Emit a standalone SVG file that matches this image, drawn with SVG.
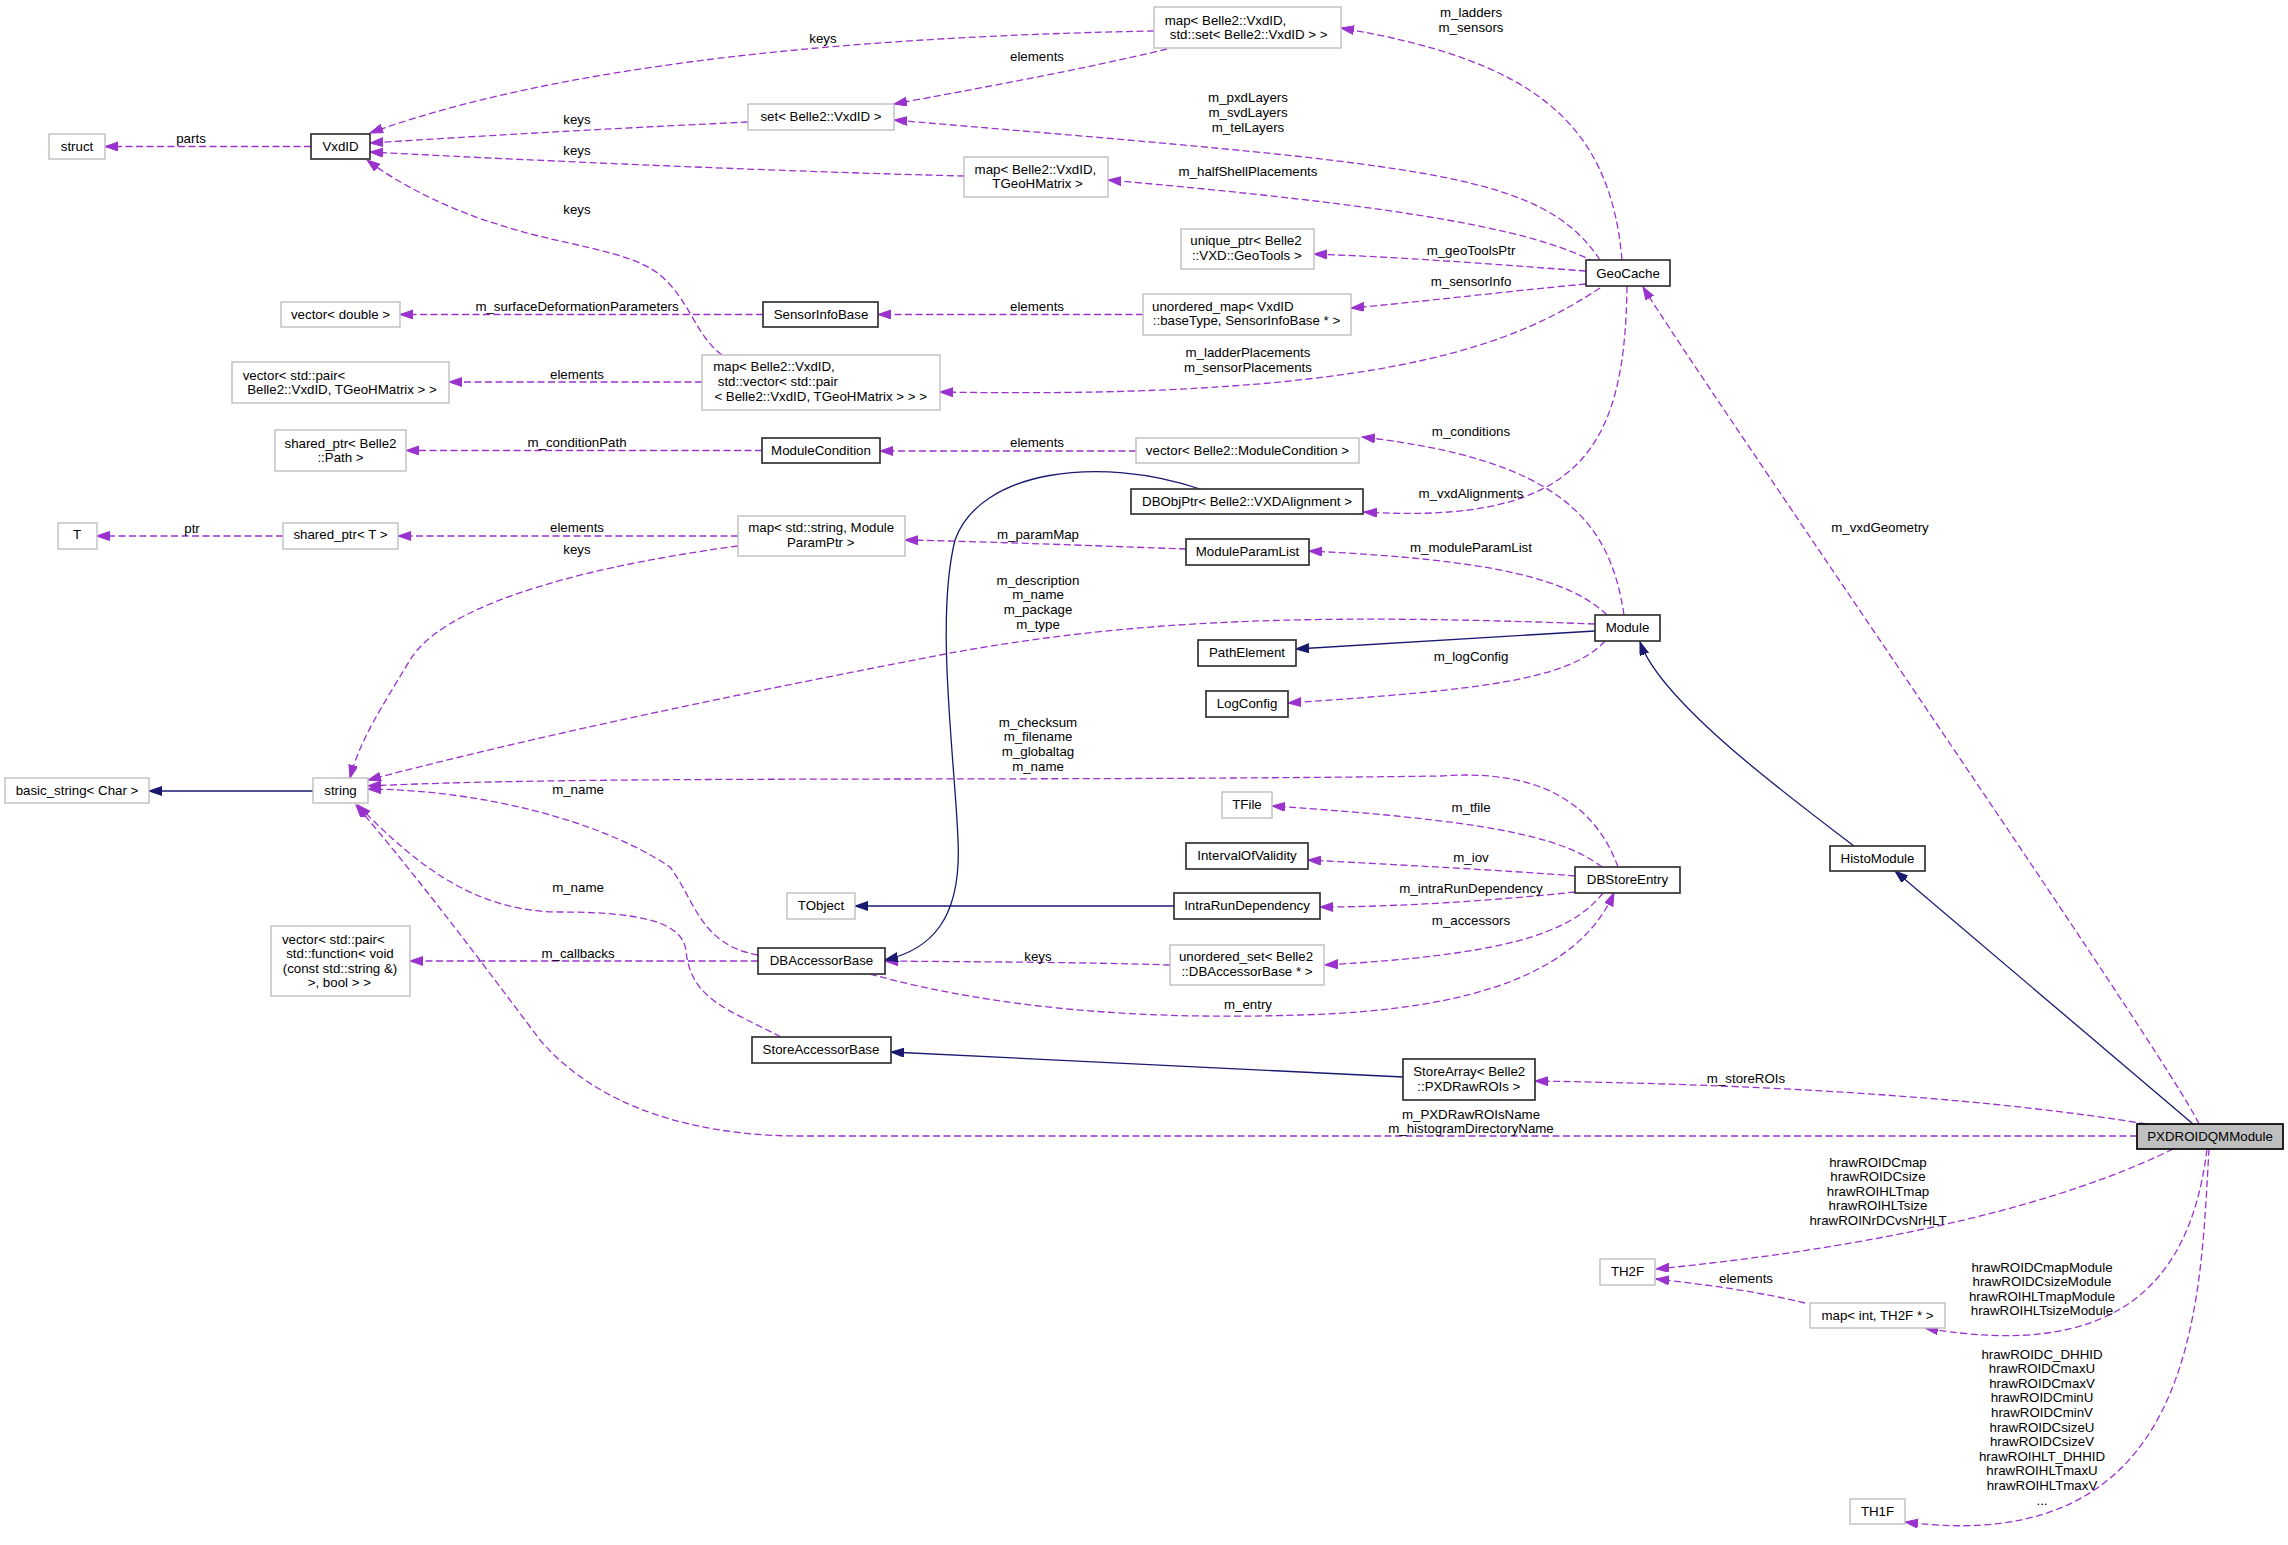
<svg xmlns="http://www.w3.org/2000/svg" width="2288" height="1545" viewBox="0 0 2288 1545">
<style>
text{font-family:"Liberation Sans",Arial,Helvetica,sans-serif;font-size:13.3px;fill:#000;text-anchor:middle}
.g rect{fill:#fff;stroke:#bfbfbf;stroke-width:1.4}
.b rect{fill:#fff;stroke:#333;stroke-width:1.7}
.m rect{fill:#bfbfbf;stroke:#000;stroke-width:1.7}
.e path{fill:none;stroke:#9a32cd;stroke-width:1.3;stroke-dasharray:7,3.5;marker-end:url(#ap)}
.i path{fill:none;stroke:#191970;stroke-width:1.3;marker-end:url(#an)}
</style>
<defs>
<marker id="ap" markerWidth="14" markerHeight="10" refX="13" refY="4.5" orient="auto" markerUnits="userSpaceOnUse"><path d="M0,0 L13,4.5 L0,9 z" fill="#9a32cd" stroke="#9a32cd" stroke-width="1" stroke-dasharray="none"/></marker>
<marker id="an" markerWidth="14" markerHeight="10" refX="13" refY="4.5" orient="auto" markerUnits="userSpaceOnUse"><path d="M0,0 L13,4.5 L0,9 z" fill="#191970" stroke="#191970" stroke-width="1" stroke-dasharray="none"/></marker>
</defs>
<rect width="2288" height="1545" fill="#fff"/>

<g id="edges">
<g class="e"><path d="M311,146.5 L105,146.5"/><text x="191" y="142.5">parts</text></g>
<g class="e"><path d="M1154,31 C950,35 600,50 370,133"/><text x="823" y="42.5">keys</text></g>
<g class="e"><path d="M1167,49 C1080,70 980,88 894,104"/><text x="1037" y="60.5">elements</text></g>
<g class="e"><path d="M748,122 C600,129 480,136 370,143"/><text x="577" y="123.5">keys</text></g>
<g class="e"><path d="M964,176 C800,172 560,162 370,152"/><text x="577" y="154.5">keys</text></g>
<g class="e"><path d="M722,355 C695,335 690,300 660,275 C630,250 560,245 500,225 C450,210 400,185 367,160"/><text x="577" y="213.5">keys</text></g>
<g class="e"><path d="M763,314.5 L400,314.5"/><text x="577" y="310.5">m_surfaceDeformationParameters</text></g>
<g class="e"><path d="M702,382 L449,382"/><text x="577" y="378.5">elements</text></g>
<g class="e"><path d="M762,450.5 L406,450.5"/><text x="577" y="446.5">m_conditionPath</text></g>
<g class="e"><path d="M1622,260 C1610,120 1530,60 1341,28"/><text x="1471" y="16.5">m_ladders<tspan x="1471" dy="15">m_sensors</tspan></text></g>
<g class="e"><path d="M1600,260 C1540,170 1420,165 894,120"/><text x="1248" y="101.5">m_pxdLayers<tspan x="1248" dy="15">m_svdLayers</tspan><tspan x="1248" dy="15">m_telLayers</tspan></text></g>
<g class="e"><path d="M1595,262 C1540,235 1450,210 1108,180"/><text x="1248" y="175.5">m_halfShellPlacements</text></g>
<g class="e"><path d="M1586,271 C1500,265 1420,258 1314,254"/><text x="1471" y="254.5">m_geoToolsPtr</text></g>
<g class="e"><path d="M1586,284 C1500,292 1420,302 1351,308"/><text x="1471" y="285.5">m_sensorInfo</text></g>
<g class="e"><path d="M1600,288 C1520,340 1400,400 940,392"/><text x="1248" y="356.5">m_ladderPlacements<tspan x="1248" dy="15">m_sensorPlacements</tspan></text></g>
<g class="e"><path d="M1627,286 C1625,450 1580,525 1364,512"/><text x="1471" y="497.5">m_vxdAlignments</text></g>
<g class="e"><path d="M2199,1124 C2170,1060 1700,380 1643,287"/><text x="1880" y="531.5">m_vxdGeometry</text></g>
<g class="e"><path d="M1143,314.5 L878,314.5"/><text x="1037" y="310.5">elements</text></g>
<g class="e"><path d="M1136,451 L880,451"/><text x="1037" y="446.5">elements</text></g>
<g class="e"><path d="M1624,615 C1610,520 1560,460 1362,437"/><text x="1471" y="435.5">m_conditions</text></g>
<g class="e"><path d="M1607,615 C1570,580 1500,560 1309,551"/><text x="1471" y="551.5">m_moduleParamList</text></g>
<g class="e"><path d="M1595,624 C1350,615 1150,615 940,655 C760,690 560,730 368,780"/><text x="1038" y="584.5">m_description<tspan x="1038" dy="14.7">m_name</tspan><tspan x="1038" dy="14.7">m_package</tspan><tspan x="1038" dy="14.7">m_type</tspan></text></g>
<g class="e"><path d="M1605,641 C1570,680 1480,690 1288,703"/><text x="1471" y="660.5">m_logConfig</text></g>
<g class="i"><path d="M1595,631 L1296,649"/></g>
<g class="i"><path d="M1854,846 C1780,790 1660,700 1640,642"/></g>
<g class="i"><path d="M2193,1124 L1895,871"/></g>
<g class="e"><path d="M1186,549 C1100,546 1000,542 905,540"/><text x="1038" y="538.5">m_paramMap</text></g>
<g class="e"><path d="M738,536 L398,536"/><text x="577" y="531.5">elements</text></g>
<g class="e"><path d="M738,546 C560,570 440,610 410,660 C380,710 360,740 350,778"/><text x="577" y="553.5">keys</text></g>
<g class="e"><path d="M283,536 L96.5,536"/><text x="192" y="532.5">ptr</text></g>
<g class="i"><path d="M313,791 L149,791"/></g>
<g class="e"><path d="M1618,867 C1590,790 1520,770 1440,776 C1000,782 600,775 368,786"/><text x="1038" y="726.5">m_checksum<tspan x="1038" dy="14.7">m_filename</tspan><tspan x="1038" dy="14.7">m_globaltag</tspan><tspan x="1038" dy="14.7">m_name</tspan></text></g>
<g class="e"><path d="M1602,867 C1560,835 1480,820 1272,806"/><text x="1471" y="811.5">m_tfile</text></g>
<g class="e"><path d="M1575,876 C1500,870 1400,865 1308,860"/><text x="1471" y="861.5">m_iov</text></g>
<g class="e"><path d="M1575,892 C1500,900 1400,907 1320,907"/><text x="1471" y="892.5">m_intraRunDependency</text></g>
<g class="e"><path d="M1603,893 C1570,935 1500,955 1325,965"/><text x="1471" y="924.5">m_accessors</text></g>
<g class="i"><path d="M1174,906 L855,906"/></g>
<g class="e"><path d="M870,974 C1000,1010 1150,1020 1300,1015 C1480,1010 1580,970 1614,893"/><text x="1248" y="1008.5">m_entry</text></g>
<g class="e"><path d="M1170,965 C1080,962 980,962 885,961"/><text x="1038" y="960.5">keys</text></g>
<g class="i"><path d="M1200,489 C1100,455 980,470 955,540 C935,620 955,760 958,840 C962,920 930,950 885,960"/></g>
<g class="e"><path d="M758,961 L410,961"/><text x="578" y="957.5">m_callbacks</text></g>
<g class="e"><path d="M758,955 C700,945 695,900 670,867 C600,820 480,790 368,789"/><text x="578" y="793.5">m_name</text></g>
<g class="e"><path d="M781,1037 C730,1010 690,1000 686,950 C682,925 650,912 560,912 C480,912 420,870 358,805"/><text x="578" y="891.5">m_name</text></g>
<g class="e"><path d="M2137,1136 L800,1136 C700,1136 600,1110 540,1040 C480,960 420,880 356,805"/><text x="1471" y="1118.5">m_PXDRawROIsName<tspan x="1471" dy="14.5">m_histogramDirectoryName</tspan></text></g>
<g class="i"><path d="M1403,1077 L891,1052"/></g>
<g class="e"><path d="M2146,1124 C2000,1100 1800,1085 1535,1081"/><text x="1746" y="1082.5">m_storeROIs</text></g>
<g class="e"><path d="M2173,1149 C2100,1185 1950,1240 1656,1269"/><text x="1878" y="1166.5">hrawROIDCmap<tspan x="1878" dy="14.5">hrawROIDCsize</tspan><tspan x="1878" dy="14.5">hrawROIHLTmap</tspan><tspan x="1878" dy="14.5">hrawROIHLTsize</tspan><tspan x="1878" dy="14.5">hrawROINrDCvsNrHLT</tspan></text></g>
<g class="e"><path d="M1805,1303 C1760,1292 1710,1285 1656,1279"/><text x="1746" y="1282.5">elements</text></g>
<g class="e"><path d="M2207,1149 C2190,1290 2110,1360 1925,1328"/><text x="2042" y="1271.5">hrawROIDCmapModule<tspan x="2042" dy="14.5">hrawROIDCsizeModule</tspan><tspan x="2042" dy="14.5">hrawROIHLTmapModule</tspan><tspan x="2042" dy="14.5">hrawROIHLTsizeModule</tspan></text></g>
<g class="e"><path d="M2209,1149 C2200,1300 2200,1560 1905,1522"/><text x="2042" y="1358.5">hrawROIDC_DHHID<tspan x="2042" dy="14.6">hrawROIDCmaxU</tspan><tspan x="2042" dy="14.6">hrawROIDCmaxV</tspan><tspan x="2042" dy="14.6">hrawROIDCminU</tspan><tspan x="2042" dy="14.6">hrawROIDCminV</tspan><tspan x="2042" dy="14.6">hrawROIDCsizeU</tspan><tspan x="2042" dy="14.6">hrawROIDCsizeV</tspan><tspan x="2042" dy="14.6">hrawROIHLT_DHHID</tspan><tspan x="2042" dy="14.6">hrawROIHLTmaxU</tspan><tspan x="2042" dy="14.6">hrawROIHLTmaxV</tspan><tspan x="2042" dy="14.6">...</tspan></text></g>
</g>

<g id="n_struct" class="g"><rect x="49" y="134" width="56" height="25"/><text x="77" y="150.5">struct</text></g>
<g id="n_VxdID" class="b"><rect x="311" y="134" width="59" height="25"/><text x="340.5" y="150.5">VxdID</text></g>
<g id="n_mapVxdSet" class="g"><rect x="1154" y="7" width="187" height="41"/><text x="1225.5" y="24.5">map&lt; Belle2::VxdID,</text><text x="1248.7" y="39">std::set&lt; Belle2::VxdID &gt; &gt;</text></g>
<g id="n_setVxd" class="g"><rect x="748" y="104" width="146" height="26"/><text x="821" y="121">set&lt; Belle2::VxdID &gt;</text></g>
<g id="n_mapVxdGeo" class="g"><rect x="964" y="157" width="144" height="40"/><text x="1035.4" y="173.5">map&lt; Belle2::VxdID,</text><text x="1037.6" y="188">TGeoHMatrix &gt;</text></g>
<g id="n_uniqueGeoTools" class="g"><rect x="1181" y="229" width="133" height="40"/><text x="1246" y="245">unique_ptr&lt; Belle2</text><text x="1246.8" y="260">::VXD::GeoTools &gt;</text></g>
<g id="n_vecDouble" class="g"><rect x="281" y="302" width="119" height="25"/><text x="340.5" y="318.5">vector&lt; double &gt;</text></g>
<g id="n_SensorInfoBase" class="b"><rect x="763" y="302" width="115" height="25"/><text x="821" y="318.5">SensorInfoBase</text></g>
<g id="n_umapSensor" class="g"><rect x="1143" y="294" width="208" height="41"/><text x="1222.8" y="310.5">unordered_map&lt; VxdID</text><text x="1246.5" y="325">::baseType, SensorInfoBase * &gt;</text></g>
<g id="n_vecPair" class="g"><rect x="232" y="362" width="217" height="41"/><text x="294" y="379.5">vector&lt; std::pair&lt;</text><text x="342" y="393.5">Belle2::VxdID, TGeoHMatrix &gt; &gt;</text></g>
<g id="n_mapVxdVec" class="g"><rect x="702" y="355" width="238" height="55"/><text x="774" y="371">map&lt; Belle2::VxdID,</text><text x="777.8" y="386">std::vector&lt; std::pair</text><text x="820.7" y="401">&lt; Belle2::VxdID, TGeoHMatrix &gt; &gt; &gt;</text></g>
<g id="n_sharedPath" class="g"><rect x="275" y="430" width="131" height="41"/><text x="340.5" y="447.5">shared_ptr&lt; Belle2</text><text x="340.5" y="461.5">::Path &gt;</text></g>
<g id="n_ModuleCondition" class="b"><rect x="762" y="438" width="118" height="25"/><text x="821" y="454.5">ModuleCondition</text></g>
<g id="n_vecModuleCondition" class="g"><rect x="1136" y="438" width="223" height="25"/><text x="1247.5" y="454.5">vector&lt; Belle2::ModuleCondition &gt;</text></g>
<g id="n_DBObjPtr" class="b"><rect x="1131" y="489" width="232" height="25"/><text x="1247" y="505.5">DBObjPtr&lt; Belle2::VXDAlignment &gt;</text></g>
<g id="n_GeoCache" class="b"><rect x="1586" y="260" width="84" height="26"/><text x="1628" y="277.5">GeoCache</text></g>
<g id="n_T" class="g"><rect x="58" y="523" width="39" height="26"/><text x="77" y="539">T</text></g>
<g id="n_sharedT" class="g"><rect x="283" y="523" width="115" height="26"/><text x="340.5" y="539">shared_ptr&lt; T &gt;</text></g>
<g id="n_mapParam" class="g"><rect x="738" y="516" width="167" height="40"/><text x="821.2" y="532">map&lt; std::string, Module</text><text x="820.7" y="546.5">ParamPtr &gt;</text></g>
<g id="n_ModuleParamList" class="b"><rect x="1186" y="539" width="123" height="26"/><text x="1247.5" y="556">ModuleParamList</text></g>
<g id="n_PathElement" class="b"><rect x="1198" y="640" width="98" height="26"/><text x="1247" y="657">PathElement</text></g>
<g id="n_LogConfig" class="b"><rect x="1206" y="691" width="82" height="26"/><text x="1247" y="708">LogConfig</text></g>
<g id="n_Module" class="b"><rect x="1595" y="615" width="65" height="26"/><text x="1627.5" y="632">Module</text></g>
<g id="n_basicString" class="g"><rect x="5" y="778" width="144" height="25"/><text x="77" y="795">basic_string&lt; Char &gt;</text></g>
<g id="n_string" class="g"><rect x="313" y="778" width="55" height="25"/><text x="340.5" y="795">string</text></g>
<g id="n_TFile" class="g"><rect x="1222" y="792" width="50" height="26"/><text x="1247" y="809">TFile</text></g>
<g id="n_IntervalOfValidity" class="b"><rect x="1186" y="843" width="122" height="26"/><text x="1247" y="860">IntervalOfValidity</text></g>
<g id="n_DBStoreEntry" class="b"><rect x="1575" y="867" width="105" height="26"/><text x="1627.5" y="884">DBStoreEntry</text></g>
<g id="n_HistoModule" class="b"><rect x="1830" y="846" width="95" height="25"/><text x="1877.5" y="862.5">HistoModule</text></g>
<g id="n_TObject" class="g"><rect x="787" y="893" width="68" height="26"/><text x="821" y="910">TObject</text></g>
<g id="n_IntraRunDependency" class="b"><rect x="1174" y="893" width="146" height="26"/><text x="1247" y="910">IntraRunDependency</text></g>
<g id="n_DBAccessorBase" class="b"><rect x="758" y="948" width="127" height="26"/><text x="821.5" y="965">DBAccessorBase</text></g>
<g id="n_usetAccessor" class="g"><rect x="1170" y="945" width="154" height="40"/><text x="1246" y="961">unordered_set&lt; Belle2</text><text x="1247" y="975.5">::DBAccessorBase * &gt;</text></g>
<g id="n_vecCallbacks" class="g"><rect x="271" y="926" width="139" height="70"/><text x="333.3" y="943.5">vector&lt; std::pair&lt;</text><text x="340" y="958">std::function&lt; void</text><text x="340" y="972.5">(const std::string &amp;)</text><text x="339.3" y="987">&gt;, bool &gt; &gt;</text></g>
<g id="n_StoreAccessorBase" class="b"><rect x="752" y="1037" width="139" height="26"/><text x="821" y="1054">StoreAccessorBase</text></g>
<g id="n_StoreArray" class="b"><rect x="1403" y="1059" width="132" height="41"/><text x="1469.2" y="1075.5">StoreArray&lt; Belle2</text><text x="1468.8" y="1090.5">::PXDRawROIs &gt;</text></g>
<g id="n_PXDROIDQMModule" class="m"><rect x="2137" y="1124" width="146" height="25"/><text x="2210" y="1140.5">PXDROIDQMModule</text></g>
<g id="n_TH2F" class="g"><rect x="1600" y="1259" width="55" height="26"/><text x="1627.5" y="1276">TH2F</text></g>
<g id="n_mapIntTH2F" class="g"><rect x="1810" y="1303" width="135" height="25"/><text x="1877.5" y="1319.5">map&lt; int, TH2F * &gt;</text></g>
<g id="n_TH1F" class="g"><rect x="1850" y="1499" width="55" height="25"/><text x="1877.5" y="1515.5">TH1F</text></g>
</svg>
